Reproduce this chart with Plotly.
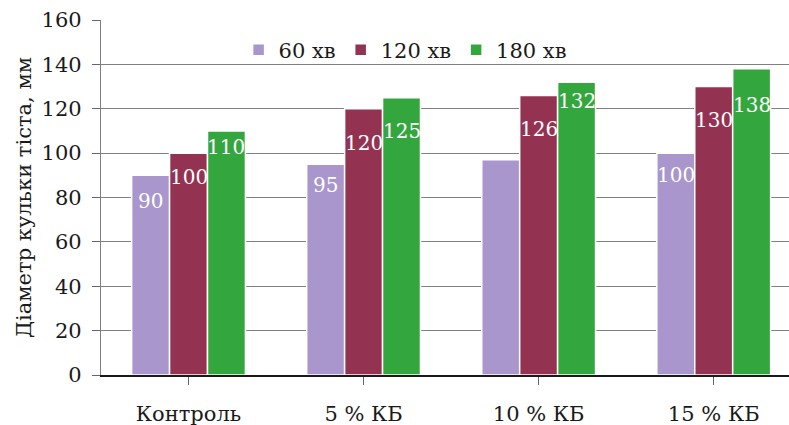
import plotly.graph_objects as go

categories = ["Контроль", "5 % КБ", "10 % КБ", "15 % КБ"]
series_names = ["60 хв", "120 хв", "180 хв"]
values_60 = [90, 95, 97, 100]
values_120 = [100, 120, 126, 130]
values_180 = [110, 125, 132, 138]
# the 60 хв bar for 10 % КБ carries no value label
show_label_60 = [True, True, False, True]
y_ticks = [0, 20, 40, 60, 80, 100, 120, 140, 160]

# styling
colors = ["#A896CD", "#943252", "#34A63E"]
serif = "DejaVu Serif"
bargap = 0.35
# how far (px) each value label sits below the top of its bar
label_drop = [
    [26, 21, 0, 22],
    [24, 34, 34, 33],
    [16, 33, 19, 36],
]

series = [
    (series_names[0], values_60, colors[0], show_label_60),
    (series_names[1], values_120, colors[1], [True] * 4),
    (series_names[2], values_180, colors[2], [True] * 4),
]

fig = go.Figure()
for name, vals, col, _ in series:
    fig.add_trace(go.Bar(
        x=list(range(len(categories))), y=vals, name=name,
        marker=dict(color=col, line=dict(color="white", width=1.5)),
        hoverinfo="y+name",
    ))

# value labels, set inside the top of each bar
bar_w = (1 - bargap) / len(series)
annotations = []
for k, (name, vals, col, show) in enumerate(series):
    for i, v in enumerate(vals):
        if not show[i]:
            continue
        annotations.append(dict(
            x=i + (k - 1) * bar_w, y=v, xref="x", yref="y",
            text=str(v), showarrow=False,
            yanchor="middle", xanchor="center",
            yshift=-label_drop[k][i],
            font=dict(family=serif, size=20, color="white"),
        ))

fig.update_layout(
    width=789, height=425,
    margin=dict(l=101, r=0, t=20, b=50, autoexpand=False),
    paper_bgcolor="white", plot_bgcolor="white",
    barmode="group", bargap=bargap, bargroupgap=0,
    font=dict(family=serif, color="#1a1a1a"),
    showlegend=True,
    legend=dict(orientation="h", x=0.2, y=0.915, xanchor="left", yanchor="middle",
                font=dict(family=serif, size=21, color="#1a1a1a"),
                bgcolor="rgba(0,0,0,0)", itemwidth=30, traceorder="normal"),
    annotations=annotations,
    xaxis=dict(
        range=[-0.5, 3.43], showgrid=False, automargin=False,
        tickvals=list(range(len(categories))), ticktext=categories,
        showline=True, linecolor="#1a1a1a", linewidth=1.5,
        tickfont=dict(family=serif, size=21, color="#1a1a1a"),
        ticklabelstandoff=11,
        ticks="outside", ticklen=8, tickcolor="#666", tickwidth=1.3,
        tickson="boundaries",
    ),
    yaxis=dict(
        range=[0, 160], tickvals=y_ticks, automargin=False,
        showgrid=True, gridcolor="#808080", gridwidth=1.2,
        showline=True, linecolor="#808080", linewidth=1.2,
        ticks="outside", ticklen=8, tickcolor="#666", tickwidth=1.2,
        tickfont=dict(family=serif, size=21, color="#1a1a1a"),
        ticklabelstandoff=6,
        zeroline=False,
        title=dict(text="Діаметр кульки тіста, мм",
                   font=dict(family=serif, size=21, color="#1a1a1a"), standoff=4),
    ),
)

fig.write_html("out.html")
